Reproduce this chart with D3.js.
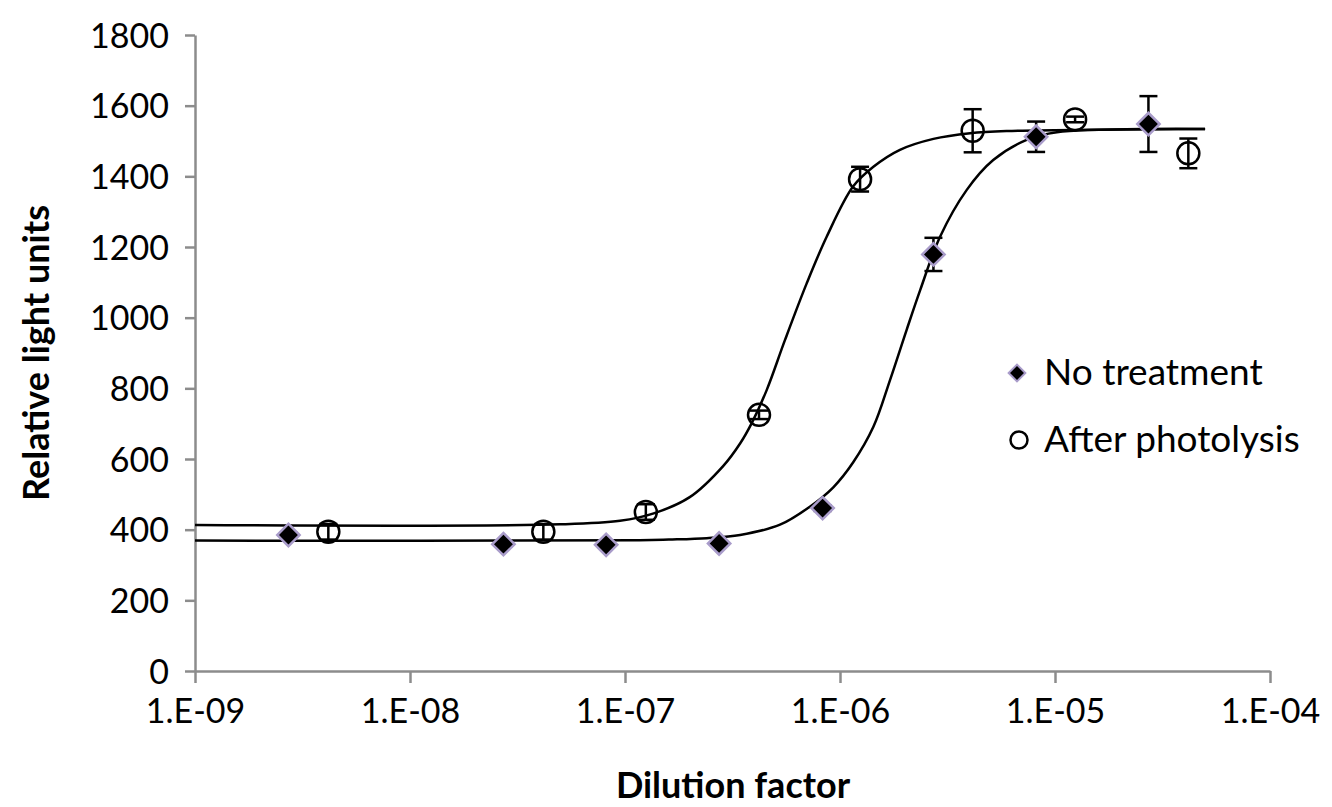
<!DOCTYPE html>
<html>
<head>
<meta charset="utf-8">
<script src="https://cdn.jsdelivr.net/npm/d3@7"></script>
<style>
  body { margin: 0; background: #fff; }
  svg text { font-family: Lato, "Open Sans", sans-serif; fill: #000; }
</style>
</head>
<body>
<div class="chart"></div>
<script>
// measured points: dilution, mean RLU, error
const noTreatX = [2.72e-9, 2.72e-8, 8.17e-8, 2.74e-7, 8.3e-7, 2.72e-6, 8.17e-6, 2.72e-5];
const noTreatY = [385, 359, 357, 361, 461, 1179, 1512, 1548];
const noTreatErr = [6, 6, 6, 6, 8, 47, 43, 79];

const photoX = [4.17e-9, 4.17e-8, 1.25e-7, 4.2e-7, 1.24e-6, 4.14e-6, 1.24e-5, 4.17e-5];
const photoY = [394, 394, 450, 725, 1392, 1529, 1561, 1465];
const photoErr = [22, 22, 22, 12, 35, 61, 8, 42];

// fitted curves
const noTreatFitX = [1e-9, 1.17e-7, 1.6e-7, 2.40e-7, 3.43e-7, 5.26e-7, 7.24e-7, 9.31e-7, 1.15e-6, 1.43e-6,
  1.71e-6, 2.04e-6, 2.36e-6, 2.92e-6, 3.88e-6, 5.16e-6, 7.38e-6, 1.02e-5, 4.99e-5];
const noTreatFitY = [369, 370, 372, 376, 385, 414, 465, 520, 590, 691,
  824, 965, 1078, 1229, 1361, 1446, 1503, 1525, 1534];

const photoFitX = [1e-9, 4.99e-8, 9.48e-8, 1.36e-7, 2.00e-7, 2.86e-7, 3.43e-7, 3.88e-7, 4.56e-7,
  5.55e-7, 7.00e-7, 8.67e-7, 1.15e-6, 1.43e-6, 1.90e-6, 2.72e-6, 4.03e-6, 5.96e-6, 4.99e-5];
const photoFitY = [413, 415, 425, 446, 492, 580, 644, 701, 795,
  937, 1097, 1229, 1371, 1427, 1475, 1506, 1522, 1528, 1534];

const xTicks = [1e-9, 1e-8, 1e-7, 1e-6, 1e-5, 1e-4];
const xTickLabels = ["1.E-09", "1.E-08", "1.E-07", "1.E-06", "1.E-05", "1.E-04"];
const yTicks = [0, 200, 400, 600, 800, 1000, 1200, 1400, 1600, 1800];
const seriesNames = ["No treatment", "After photolysis"];

const width = 1332;
const height = 807;
const axisColor = "#8c8c8c";
const diamondEdge = "#a99cca";

const svg = d3.select(".chart").append("svg")
  .attr("width", width)
  .attr("height", height);

const x = d3.scaleLog().domain([1e-9, 1e-4]).range([195, 1270]);
const y = d3.scaleLinear().domain([0, 1800]).range([671, 35]);

// axes
const yAxis = svg.append("g")
  .attr("transform", "translate(195,0)")
  .call(d3.axisLeft(y).tickValues(yTicks).tickFormat(d3.format("d"))
    .tickSize(10).tickPadding(16).tickSizeOuter(0));
yAxis.selectAll("text").style("font-size", "34px").attr("dy", "0.36em");

const xAxis = svg.append("g")
  .attr("transform", "translate(0,671)")
  .call(d3.axisBottom(x).tickValues(xTicks).tickFormat((d, i) => xTickLabels[i])
    .tickSize(12).tickPadding(16).tickSizeOuter(0));
xAxis.selectAll("text").style("font-size", "34px");

svg.selectAll(".domain, .tick line")
  .attr("stroke", axisColor)
  .attr("stroke-width", 2.5);

// axis titles
svg.append("text")
  .attr("transform", "translate(49,353) rotate(-90)")
  .attr("text-anchor", "middle")
  .style("font-size", "36px")
  .style("font-weight", "bold")
  .text("Relative light units");

svg.append("text")
  .attr("x", 733)
  .attr("y", 798)
  .attr("text-anchor", "middle")
  .style("font-size", "36px")
  .style("font-weight", "bold")
  .text("Dilution factor");

// fitted curves
const line = d3.line()
  .x(d => x(d[0]))
  .y(d => y(d[1]))
  .curve(d3.curveCatmullRom.alpha(0.5));

[[noTreatFitX, noTreatFitY], [photoFitX, photoFitY]].forEach(([fx, fy]) => {
  svg.append("path")
    .datum(fx.map((v, i) => [v, fy[i]]))
    .attr("d", line)
    .attr("fill", "none")
    .attr("stroke", "#000")
    .attr("stroke-width", 2.5);
});

// error bars
function drawErrors(xs, ys, errs) {
  const g = svg.append("g").attr("stroke", "#000").attr("stroke-width", 2.5);
  xs.forEach((xv, i) => {
    const cx = x(xv);
    const top = y(ys[i] + errs[i]);
    const bot = y(ys[i] - errs[i]);
    g.append("line").attr("x1", cx).attr("x2", cx).attr("y1", top).attr("y2", bot);
    g.append("line").attr("x1", cx - 9).attr("x2", cx + 9).attr("y1", top).attr("y2", top);
    g.append("line").attr("x1", cx - 9).attr("x2", cx + 9).attr("y1", bot).attr("y2", bot);
  });
}
drawErrors(photoX, photoY, photoErr);
drawErrors(noTreatX, noTreatY, noTreatErr);

// markers
const diamond = d3.symbol().type(d3.symbolSquare).size(250);

svg.append("g").selectAll("circle")
  .data(photoX.map((v, i) => [v, photoY[i]]))
  .enter()
  .append("circle")
  .attr("cx", d => x(d[0]))
  .attr("cy", d => y(d[1]))
  .attr("r", 11)
  .attr("fill", "none")
  .attr("stroke", "#000")
  .attr("stroke-width", 2.5);

svg.append("g").selectAll("path")
  .data(noTreatX.map((v, i) => [v, noTreatY[i]]))
  .enter()
  .append("path")
  .attr("d", diamond)
  .attr("transform", d => `translate(${x(d[0])},${y(d[1])}) rotate(45)`)
  .attr("fill", "#000")
  .attr("stroke", diamondEdge)
  .attr("stroke-width", 2.5);

// legend
const legend = svg.append("g");
legend.append("path")
  .attr("d", d3.symbol().type(d3.symbolSquare).size(140))
  .attr("transform", "translate(1017,373) rotate(45)")
  .attr("fill", "#000")
  .attr("stroke", diamondEdge)
  .attr("stroke-width", 2);
legend.append("circle")
  .attr("cx", 1019)
  .attr("cy", 440)
  .attr("r", 8.5)
  .attr("fill", "none")
  .attr("stroke", "#000")
  .attr("stroke-width", 2.5);
legend.selectAll("text")
  .data(seriesNames)
  .enter()
  .append("text")
  .attr("x", 1044)
  .attr("y", (d, i) => 385 + i * 67)
  .style("font-size", "37px")
  .text(d => d);
</script>
</body>
</html>
